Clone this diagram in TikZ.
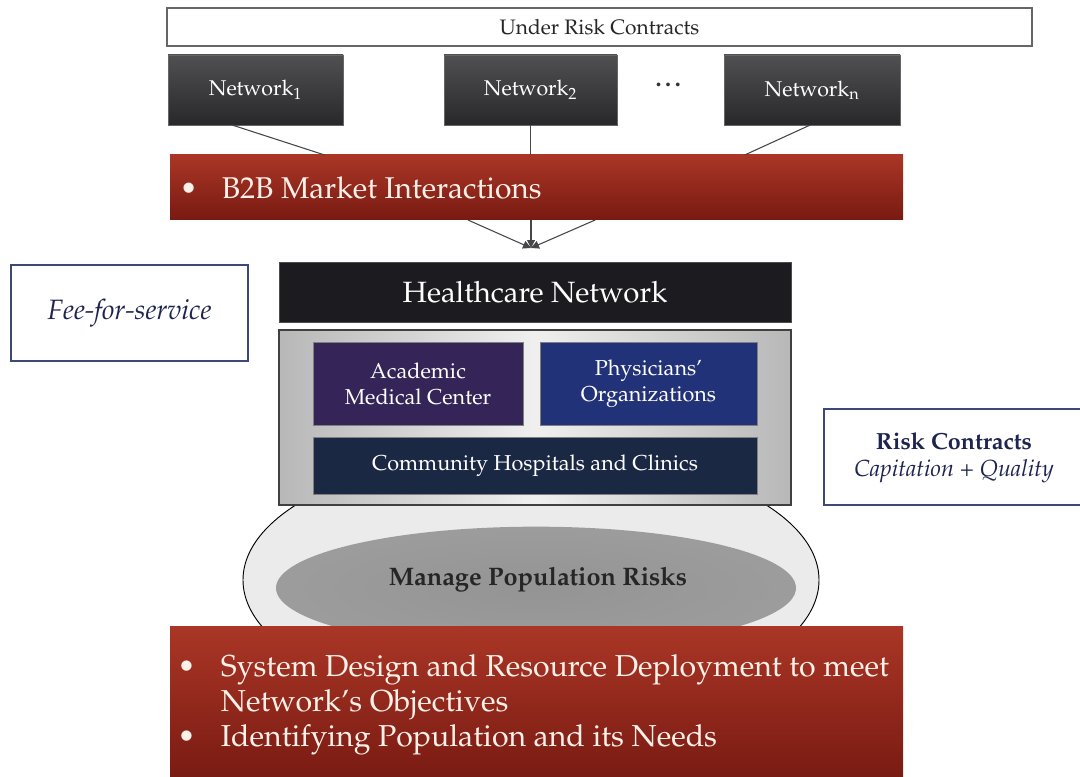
\documentclass[tikz,border=0pt]{standalone}
\usepackage[T1]{fontenc}
\usepackage{mathpazo}
\usetikzlibrary{fit,calc,shapes.geometric,arrows.meta}

\definecolor{redtop}{RGB}{170,54,38}
\definecolor{redbot}{RGB}{120,26,18}
\definecolor{redtext}{RGB}{252,240,232}
\definecolor{nettop}{RGB}{80,80,82}
\definecolor{netbot}{RGB}{40,40,42}
\definecolor{hcfill}{RGB}{28,28,32}
\definecolor{amcfill}{RGB}{52,36,88}
\definecolor{physfill}{RGB}{34,50,120}
\definecolor{commfill}{RGB}{27,40,68}
\definecolor{framecol}{RGB}{60,72,120}
\definecolor{navytext}{RGB}{30,36,80}
\definecolor{wirecol}{RGB}{70,70,74}

\pgfdeclareradialshading{softdisc}{\pgfpoint{0bp}{0bp}}{%
  color(0bp)=(black!42);
  color(30bp)=(black!38);
  color(42bp)=(black!24);
  color(50bp)=(black!10)}

\tikzset{
  frame/.style={inner sep=0pt, outer sep=0pt},
  netbox/.style={frame, top color=nettop, bottom color=netbot, draw=black!60},
  nettext/.style={text=white, font=\fontsize{16}{19}\selectfont},
  redbar/.style={frame, top color=redtop, bottom color=redbot},
  unitbox/.style={frame, draw=black!50},
  unittext/.style={text=white, align=center, font=\fontsize{16.2}{19.5}\selectfont},
  sidebox/.style={frame, draw=framecol, line width=0.9pt, fill=white},
  wire/.style={draw=wirecol, line width=0.8pt},
  feed/.style={wire, -{Triangle[length=6pt,width=6pt]}},
}

\begin{document}
\begin{tikzpicture}[x=0.75pt,y=-0.75pt]
  \useasboundingbox (0,0) rectangle (1080,777);
  \fill[white] (0,0) rectangle (1080,777);

  % population ellipse (partly covered by the frame and the bottom bar)
  \node (pop) [ellipse, draw=black, line width=0.7pt, fill=black!8,
    minimum width=432pt, minimum height=195pt, inner sep=0pt] at (531,580) {};
  \node (popcore) [ellipse, minimum width=390pt, minimum height=92pt, inner sep=0pt,
    shading=softdisc] at (536,588) {};
  \node (poptext) at (538,580) {\fontsize{19}{22}\selectfont\bfseries\color{black!85}Manage Population Risks};

  % top header
  \node (urc) [frame, draw=black!60, line width=0.8pt, fill=white, fit={(167,8)(1032,46)}] {};
  \node at (urc.center) {\fontsize{15.7}{18}\selectfont\color{black!85}Under Risk Contracts};

  % competing networks
  \node (n1) [netbox, fit={(168,55)(343,125)}] {};
  \node (n2) [netbox, fit={(444,55)(617,125)}] {};
  \node (nn) [netbox, fit={(724,55)(900,125)}] {};
  \node [nettext] at (n1.center) {Network$_{\scriptstyle 1}$};
  \node [nettext] at (n2.center) {Network$_{\scriptstyle 2}$};
  \node [nettext] at (nn.center) {Network$_{\scriptstyle\mathrm{n}}$};
  \node (dots) at (670,85) {\fontsize{18}{20}\selectfont\bfseries\color{black!80}\ldots};

  % B2B bar
  \node (b2b) [redbar, fit={(170,155)(903,220)}] {};
  \node (b2btext) [anchor=west, text=redtext] at (175,188)
    {\fontsize{22.5}{26}\selectfont\textbullet\hspace{18pt}B2B Market Interactions};

  \draw[wire] ($(n1.south west)!.366!(n1.south east)$) -- ($(b2b.north west)!.211!(b2b.north east)$);
  \draw[wire] (n2.south) -- (n2.south |- b2b.north);
  \draw[wire] ($(nn.south west)!.49!(nn.south east)$) -- ($(b2b.north west)!.784!(b2b.north east)$);

  % healthcare network
  \node (hc) [frame, fill=hcfill, draw=black!70, fit={(279,262)(791,322)}] {};
  \node at (hc.center) {\fontsize{22}{26}\selectfont\color{white}Healthcare Network};

  \coordinate (hcin) at (531,248);
  \draw[feed] ($(b2b.south west)!.4065!(b2b.south east)$) -- (hcin);
  \draw[feed] (hcin |- b2b.south) -- (hcin);
  \draw[feed] ($(b2b.south west)!.58!(b2b.south east)$) -- (hcin);

  % network members
  \node (cont) [frame, draw=black!75, line width=0.8pt,
    left color=black!28, right color=black!28, middle color=black!6,
    fit={(279,330)(791,505)}] {};
  \node (amc) [unitbox, fill=amcfill, fit={(313,342)(523,425)}] {};
  \node (phys) [unitbox, fill=physfill, fit={(540,342)(757,425)}] {};
  \node (comm) [unitbox, fill=commfill, fit={(313,437)(757,494)}] {};
  \node [unittext] at (amc.center) {Academic\\Medical Center};
  \node [unittext] at (phys.center) {Physicians'\\Organizations};
  \node [unittext] at (comm.center) {Community Hospitals and Clinics};

  % payment models
  \node (fee) [sidebox, fit={(11,265)(248,361)}] {};
  \node [text=navytext, font=\fontsize{21}{24}\selectfont\itshape] at (fee.center) {Fee-for-service};
  \node (risk) [sidebox, fit={(824,409)(1084,505)}] {};
  \node [text=navytext, align=center, font=\fontsize{17.5}{20.5}\selectfont] at (954,458)
    {\bfseries Risk Contracts\\\itshape Capitation + Quality};

  % bottom bar
  \node (sys) [redbar, fit={(170,626)(903,782)}] {};
  \node (systext) [anchor=base west, text=redtext, inner sep=0pt] at (177,676)
    {\fontsize{22.7}{26.6}\selectfont
     \begin{tabular}[t]{@{}l@{\hspace{19pt}}l@{}}
       \textbullet & System Design and Resource Deployment to meet\\
                   & Network's Objectives\\
       \textbullet & Identifying Population and its Needs
     \end{tabular}};
\end{tikzpicture}
\end{document}
